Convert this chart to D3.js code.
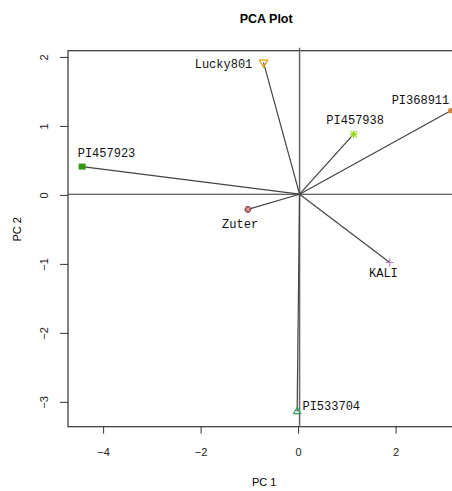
<!DOCTYPE html>
<html>
<head>
<meta charset="utf-8">
<script src="https://cdn.jsdelivr.net/npm/d3@7"></script>
<style>
  body { margin: 0; background: #fff; }
  svg { display: block; }
  .tick text { font-family: "Liberation Sans", Arial, sans-serif; font-size: 11px; fill: #222; }
  .tick line { stroke: #333; }
  .lbl { font-family: "Courier New", "Liberation Mono", monospace; font-size: 12px; fill: #111; }
</style>
</head>
<body>
<svg id="chart" width="452" height="491"></svg>
<script>
// sample scores on the first two components
const names = ['Lucky801', 'PI368911', 'PI457938', 'PI457923', 'Zuter', 'KALI', 'PI533704'];
const pc1 = [-0.71, 3.13, 1.14, -4.43, -1.03, 1.88, -0.02];
const pc2 = [1.92, 1.22, 0.88, 0.41, -0.21, -0.98, -3.14];
// where each name is written (data units, like text(x, y) in R)
const labelPc1 = [-1.53, 2.51, 1.17, -3.93, -1.19, 1.75, 0.68];
const labelPc2 = [1.90, 1.38, 1.09, 0.61, -0.42, -1.13, -3.05];
// ray origin
const center = [0.03, 0.01];

const xLim = [-4.72, 3.41];
const yLim = [-3.36, 2.09];
const xTicks = [-4, -2, 0, 2];
const yTicks = [-3, -2, -1, 0, 1, 2];

const markerStyle = {
    'Lucky801': { type: 'tri-down', color: '#e8a400' },
    'PI368911': { type: 'dot', color: '#d8823a' },
    'PI457938': { type: 'asterisk', color: '#9ad81e' },
    'PI457923': { type: 'square', color: '#2f9a10' },
    'Zuter': { type: 'circle-x', color: '#b06060' },
    'KALI': { type: 'plus', color: '#c080c8' },
    'PI533704': { type: 'tri-up', color: '#30a060' }
};

let svg = d3.select('#chart');

let margin = { left: 68, top: 50.7 };
let innerW = (xLim[1] - xLim[0]) * 48.75;
let innerH = 376;

let x = d3.scaleLinear().domain(xLim).range([margin.left, margin.left + innerW]);
let y = d3.scaleLinear().domain(yLim).range([margin.top + innerH, margin.top]);

let data = names.map((n, i) => ({
    name: n, x: pc1[i], y: pc2[i], lx: labelPc1[i], ly: labelPc2[i]
}));

// title
svg.append('text')
    .attr('x', margin.left + innerW / 2)
    .attr('y', 23)
    .attr('text-anchor', 'middle')
    .style('font-family', '"Liberation Sans", Arial, sans-serif')
    .style('font-weight', 'bold')
    .style('font-size', '12.5px')
    .text('PCA Plot');

// axes
let xAxis = svg.append('g')
    .attr('transform', `translate(0, ${margin.top + innerH})`)
    .call(d3.axisBottom(x).tickValues(xTicks).tickFormat(d3.format('d'))
        .tickSize(7).tickPadding(15).tickSizeOuter(0));
xAxis.select('.domain').remove();

let yAxis = svg.append('g')
    .attr('transform', `translate(${margin.left}, 0)`)
    .call(d3.axisLeft(y).tickValues(yTicks).tickFormat(d3.format('d'))
        .tickSize(8).tickSizeOuter(0));
yAxis.select('.domain').remove();
yAxis.selectAll('.tick text')
    .attr('x', 0)
    .attr('y', -20)
    .attr('dy', 0)
    .attr('text-anchor', 'middle')
    .attr('transform', 'rotate(-90)');

svg.append('text')
    .attr('x', margin.left + innerW / 2 - 2)
    .attr('y', 486)
    .attr('text-anchor', 'middle')
    .style('font-family', '"Liberation Sans", Arial, sans-serif')
    .style('font-size', '11px')
    .text('PC 1');

svg.append('text')
    .attr('transform', `translate(21, ${y(-0.5)}) rotate(-90)`)
    .attr('text-anchor', 'middle')
    .style('font-family', '"Liberation Sans", Arial, sans-serif')
    .style('font-size', '11px')
    .text('PC 2');

// box
svg.append('rect')
    .attr('x', margin.left)
    .attr('y', margin.top)
    .attr('width', innerW)
    .attr('height', innerH)
    .attr('fill', 'none')
    .attr('stroke', '#333')
    .attr('stroke-width', 1.2);

// reference lines
svg.append('line')
    .attr('x1', margin.left).attr('x2', margin.left + innerW)
    .attr('y1', y(center[1])).attr('y2', y(center[1]))
    .attr('stroke', '#333').attr('stroke-width', 1.1);
svg.append('line')
    .attr('x1', x(center[0])).attr('x2', x(center[0]))
    .attr('y1', margin.top - 3).attr('y2', margin.top + innerH)
    .attr('stroke', '#666').attr('stroke-width', 1.5);

// rays
svg.selectAll('line.ray')
    .data(data)
    .enter().append('line')
    .attr('class', 'ray')
    .attr('x1', x(center[0])).attr('y1', y(center[1]))
    .attr('x2', d => x(d.x)).attr('y2', d => y(d.y))
    .attr('stroke', '#444')
    .attr('stroke-width', 1.2);

// markers
let marks = svg.selectAll('g.mark')
    .data(data)
    .enter().append('g')
    .attr('class', 'mark')
    .attr('transform', d => `translate(${x(d.x)}, ${y(d.y)})`);

marks.each(function(d) {
    let g = d3.select(this);
    let s = markerStyle[d.name];
    if (s.type === 'square') {
        g.append('rect').attr('x', -3.5).attr('y', -3).attr('width', 7).attr('height', 6).attr('fill', s.color);
    } else if (s.type === 'dot') {
        g.append('path').attr('d', d3.symbol(d3.symbolCircle, 22)()).attr('fill', s.color);
    } else if (s.type === 'tri-down') {
        g.append('path').attr('d', d3.symbol(d3.symbolTriangle, 30)())
            .attr('transform', 'rotate(180)')
            .attr('fill', 'none').attr('stroke', s.color).attr('stroke-width', 1.2);
    } else if (s.type === 'tri-up') {
        g.append('path').attr('d', d3.symbol(d3.symbolTriangle, 22)())
            .attr('fill', 'none').attr('stroke', s.color).attr('stroke-width', 1.2);
    } else if (s.type === 'plus') {
        g.append('path').attr('d', 'M-4,0H4M0,-4V4')
            .attr('stroke', s.color).attr('stroke-width', 1.2);
    } else if (s.type === 'asterisk') {
        g.append('path').attr('d', 'M-4,0H4M0,-4V4M-3,-3L3,3M-3,3L3,-3')
            .attr('stroke', s.color).attr('stroke-width', 1.2);
    } else if (s.type === 'circle-x') {
        g.append('circle').attr('r', 3).attr('fill', s.color).attr('stroke', '#8a4848');
        g.append('path').attr('d', 'M-2,-2L2,2M-2,2L2,-2').attr('stroke', '#f0d0d0').attr('stroke-width', 0.8);
    }
});

// names
svg.selectAll('text.lbl')
    .data(data)
    .enter().append('text')
    .attr('class', 'lbl')
    .attr('x', d => x(d.lx))
    .attr('y', d => y(d.ly))
    .attr('dy', '0.35em')
    .attr('text-anchor', 'middle')
    .text(d => d.name);
</script>
</body>
</html>
